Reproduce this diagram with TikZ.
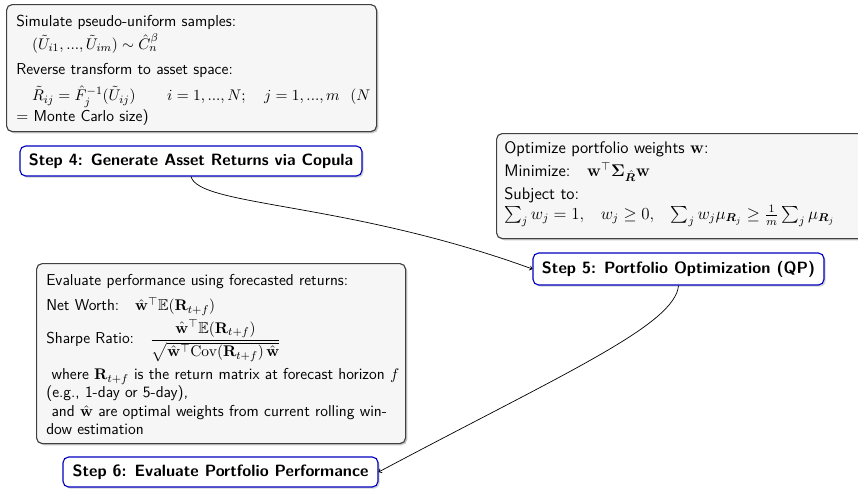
\documentclass[tikz,border=0pt]{standalone}
\usepackage{amsmath,amssymb,bm}
\usetikzlibrary{shadows,arrows.meta}
\renewcommand{\familydefault}{\sfdefault}

\tikzset{
  detailbox/.style={draw=black!75, line width=0.8pt, fill=gray!7, rounded corners=4pt,
    drop shadow={shadow xshift=1.2pt, shadow yshift=-1.2pt, fill=black!45},
    anchor=north west, inner sep=0pt},
  detailtext/.style={anchor=north west, align=left, inner sep=0pt},
  stepbox/.style={draw=blue!75!black, line width=0.8pt, fill=white, rounded corners=4pt,
    drop shadow={shadow xshift=1.2pt, shadow yshift=-1.2pt, fill=black!35},
    font=\fontsize{11.6}{14}\selectfont\sffamily\bfseries, inner sep=0pt},
  link/.style={line width=0.5pt, -{To[length=2.2pt,width=3.5pt]}}
}

\begin{document}
\begin{tikzpicture}[x=0.71pt, y=-0.71pt]
\useasboundingbox (0,0) rectangle (858,489);
\clip (0,0) rectangle (858,489);

% ---- detail panels ----
\node[detailbox, minimum width=370*0.71pt, minimum height=127*0.71pt] (d4) at (6,4) {};
\node[detailtext, text width=258pt, font=\fontsize{11.25}{13.5}\selectfont\sffamily] (t4) at (16,14.5)
 {Simulate pseudo-uniform samples:\\[3pt]
  \quad$(\tilde U_{i1},...,\tilde U_{im}) \sim \hat C_n^{\beta}$\\[4.5pt]
  Reverse transform to asset space:\\[5pt]
  \quad$\tilde R_{ij} = \hat F_j^{-1}(\tilde U_{ij}) \qquad i=1,...,N;\quad j=1,...,m\ \ (N$\\[1pt]
  $=$ Monte Carlo size)};

\node[detailbox, minimum width=372*0.71pt, minimum height=105*0.71pt] (d5) at (496,133) {};
\node[detailtext, font=\fontsize{11.9}{14.2}\selectfont\sffamily] (t5) at (504,141.5)
 {Optimize portfolio weights $\mathbf{w}$:\\[2pt]
  Minimize:\quad $\mathbf{w}^{\top}\bm{\Sigma}_{\hat{\bm{R}}}\mathbf{w}$\\[2pt]
  Subject to:\\
  $\sum_j w_j = 1,\enspace\ w_j \ge 0,\enspace\ \sum_j w_j \mu_{\bm{R}_j} \ge \frac{1}{m}\sum_j \mu_{\bm{R}_j}$};

\node[detailbox, minimum width=369*0.71pt, minimum height=180*0.71pt] (d6) at (36,263) {};
\node[detailtext, text width=255pt, font=\fontsize{11.2}{12.6}\selectfont\sffamily] (t6) at (46,274.5)
 {Evaluate performance using forecasted returns:\\[5pt]
  Net Worth:\quad $\hat{\mathbf{w}}^{\top}\mathbb{E}(\mathbf{R}_{t+f})$\\[2pt]
  Sharpe Ratio:\quad $\dfrac{\hat{\mathbf{w}}^{\top}\mathbb{E}(\mathbf{R}_{t+f})}{\sqrt{\hat{\mathbf{w}}^{\top}\mathrm{Cov}(\mathbf{R}_{t+f})\,\hat{\mathbf{w}}}}$\\[4pt]
  \ where $\mathbf{R}_{t+f}$ is the return matrix at forecast horizon $f$\\
  (e.g., 1-day or 5-day),\\[1pt]
  \ and $\hat{\mathbf{w}}$ are optimal weights from current rolling win-\\
  dow estimation};

% ---- step labels ----
\node[stepbox, minimum width=342*0.71pt, minimum height=30*0.71pt] (s4) at (191,161) {Step 4: Generate Asset Returns via Copula};
\node[stepbox, minimum width=291*0.71pt, minimum height=32*0.71pt] (s5) at (678.5,269) {Step 5: Portfolio Optimization (QP)};
\node[stepbox, minimum width=315*0.71pt, minimum height=30*0.71pt] (s6) at (220.5,472) {Step 6: Evaluate Portfolio Performance};

% ---- connectors ----
\draw[link] (s4.south) to[out=-75, in=160, out distance=22pt, in distance=140pt] (s5.west);
\draw[link] (s5.south) to[out=-95, in=28, out distance=28pt, in distance=150pt] (s6.east);
\end{tikzpicture}
\end{document}
